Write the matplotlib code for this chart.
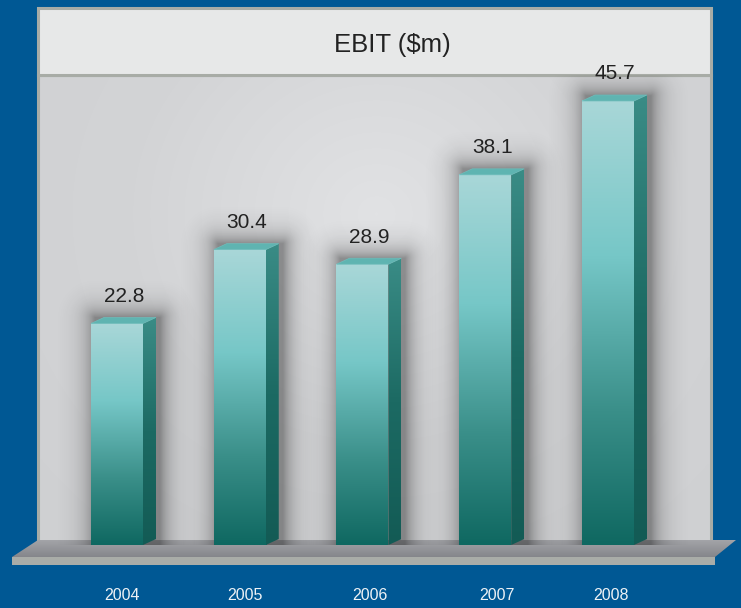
import numpy as np
import matplotlib
matplotlib.use("Agg")
import matplotlib.pyplot as plt
from matplotlib.patches import Rectangle, Polygon
from matplotlib.colors import LinearSegmentedColormap

years = ["2004", "2005", "2006", "2007", "2008"]
ebit = [22.8, 30.4, 28.9, 38.1, 45.7]
title = "EBIT ($m)"

plt.rcParams["font.family"] = ["Liberation Sans", "DejaVu Sans"]

W, H = 741, 608
fig = plt.figure(figsize=(W / 100, H / 100), dpi=100)
fig.patch.set_facecolor("#005894")

# background layer in pixel coordinates
bg = fig.add_axes([0, 0, 1, 1])
bg.set_xlim(0, W)
bg.set_ylim(H, 0)
bg.axis("off")

# chart area with soft radial shading
yy, xx = np.mgrid[0:120, 0:160]
r = np.sqrt(((xx - 80) / 90.0) ** 2 + ((yy - 35) / 90.0) ** 2)
area_cmap = LinearSegmentedColormap.from_list("area", ["#e1e2e4", "#d3d4d6", "#cfd0d2"])
bg.imshow(r, extent=(39, 710, 545, 75), cmap=area_cmap, aspect="auto",
          interpolation="bilinear", zorder=1)
bg.add_patch(Rectangle((38, 75), 673, 470, fill=False, ec="#a8aca6", lw=2.2, zorder=2))

# title box
bg.add_patch(Rectangle((38, 8), 673, 67, fc="#e7e8e8", ec="#a8aca6", lw=2.2, zorder=2))
bg.text(392, 45, title, ha="center", va="center", fontsize=18.5, color="#222222", zorder=3)

# floor slab
floor_cmap = LinearSegmentedColormap.from_list("floor", ["#a3a4a8", "#85868b"])
top = Polygon([(38, 540), (736, 540), (715, 557), (12, 557)], closed=True,
              fc="none", ec="none", zorder=4)
bg.add_patch(top)
fl = bg.imshow(np.linspace(0, 1, 64).reshape(-1, 1), extent=(12, 736, 557, 540),
               cmap=floor_cmap, aspect="auto", interpolation="bilinear", zorder=4)
fl.set_clip_path(top)
bg.add_patch(Rectangle((12, 557), 703, 8, fc="#a9aca8", ec="none", zorder=4))

# year labels
label_x = [122, 245, 370, 497, 611]
for lx, yr in zip(label_x, years):
    bg.text(lx, 595, yr, ha="center", va="center", fontsize=11.5, color="#eef2f6", zorder=5)

# data axes: x = bar index, y = value
px_x = (608 - 117) / 4.0           # pixels per x unit
px_y = 9.716                       # pixels per value unit
left_px, right_px, base_px, top_px = 41, 709, 545, 75
ax = fig.add_axes([left_px / W, (H - base_px) / H,
                   (right_px - left_px) / W, (base_px - top_px) / H])
ax.patch.set_alpha(0)
ax.axis("off")

front_cmap = LinearSegmentedColormap.from_list(
    "front", [(0, "#a9d7d8"), (0.35, "#76c7c7"), (0.7, "#3a8f89"), (1, "#0f6861")])
side_cmap = LinearSegmentedColormap.from_list("side", ["#3a8c86", "#1c6a63", "#135b55"])
grad = np.linspace(0, 1, 256).reshape(-1, 1)

bw_px, dep_px, rise_px = 52, 13, 6
w = bw_px / px_x
dx = dep_px / px_x
dy = rise_px / px_y
m = 40  # shadow margin in pixels

for i, v in enumerate(ebit):
    x0, x1 = i - w / 2, i + w / 2
    # soft shadow around the bar
    h_px = v * px_y + rise_px
    gx = np.arange(-m, bw_px + dep_px + m) + 0.5
    gy = np.arange(0, h_px + m) + 0.5
    GX, GY = np.meshgrid(gx, gy)
    ddx = np.maximum(np.maximum(-GX, GX - (bw_px + dep_px)), 0)
    ddy = np.maximum(GY - h_px, 0)
    d = np.hypot(ddx, ddy)
    sh = np.zeros(d.shape + (4,))
    sh[..., 3] = np.clip(0.38 * (np.exp(-d / 12.0) - np.exp(-m / 12.0)), 0, 1)
    sx = 4 / px_x
    ax.imshow(sh, extent=(x0 - m / px_x + sx, x1 + dx + m / px_x + sx, 0, v + dy + m / px_y),
              origin="lower", aspect="auto", interpolation="bilinear", zorder=2)
    # front face
    ax.imshow(grad, extent=(x0, x1, 0, v), cmap=front_cmap, aspect="auto",
              interpolation="bilinear", zorder=4)
    # side face
    side = Polygon([(x1, 0), (x1 + dx, dy), (x1 + dx, v + dy), (x1, v)], closed=True,
                   fc="none", ec="none", zorder=4)
    ax.add_patch(side)
    im = ax.imshow(grad, extent=(x1, x1 + dx, 0, v + dy), cmap=side_cmap, aspect="auto",
                   interpolation="bilinear", zorder=4)
    im.set_clip_path(side)
    # top face
    ax.add_patch(Polygon([(x0, v), (x1, v), (x1 + dx, v + dy), (x0 + dx, v + dy)], closed=True,
                         fc="#5fb4b1", ec="#6fbdbb", lw=0.5, zorder=5))
    ax.text(i + 7 / px_x, v + 2.8, f"{v:.1f}", ha="center", va="center",
            fontsize=15, color="#222222", zorder=6, clip_on=False)

ax.set_xlim((left_px - 117) / px_x, (right_px - 117) / px_x)
ax.set_ylim(0, (base_px - top_px) / px_y)

fig.savefig("out.png", dpi=100, facecolor=fig.get_facecolor())
